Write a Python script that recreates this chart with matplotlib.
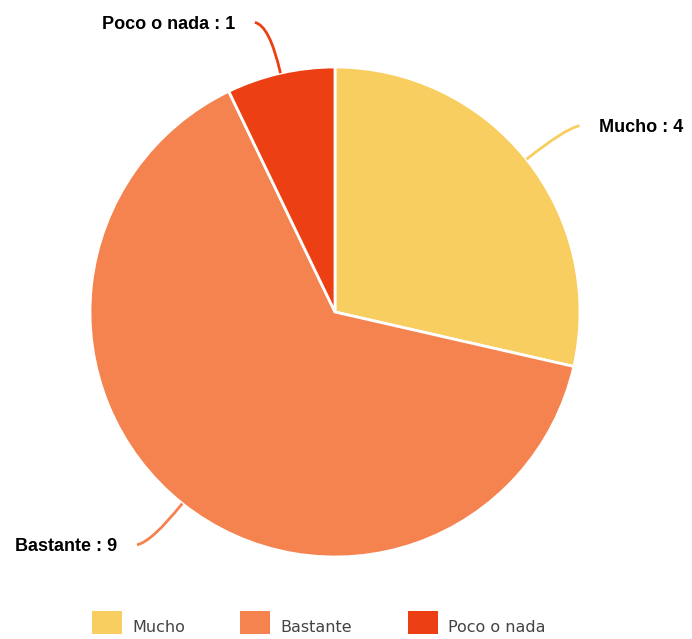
import numpy as np
import matplotlib
matplotlib.use("Agg")
import matplotlib.pyplot as plt
from matplotlib.path import Path
from matplotlib.patches import PathPatch

# date
categorii = ["Mucho", "Bastante", "Poco o nada"]
valori = [4, 9, 1]
culori = ["#F8CE60", "#F58350", "#EC4014"]

fig = plt.figure(figsize=(6.92, 6.39), dpi=100)
ax = fig.add_axes([90 / 692, 82 / 639, 490 / 692, 490 / 639])

wedges, _ = ax.pie(valori, colors=culori, startangle=90, counterclock=False,
                   radius=1, wedgeprops=dict(edgecolor="white", linewidth=2))
ax.set_xlim(-1, 1)
ax.set_ylim(-1, 1)
ax.set_aspect("auto")
ax.axis("off")

# etichete cu linii de legatura
for w, cat, val, col in zip(wedges, categorii, valori, culori):
    ang = np.deg2rad((w.theta1 + w.theta2) / 2)
    cx, cy = np.cos(ang), np.sin(ang)
    x0, y0 = cx, cy
    x1, y1 = 1.2 * cx, 1.2 * cy
    sign = 1 if cx > 0 else -1
    x2, y2 = x1 + sign * 0.06, y1 + 0.012 * np.sign(cy)
    p = Path([(x0, y0), (x1, y1), (x2, y2)], [Path.MOVETO, Path.CURVE3, Path.CURVE3])
    ax.add_patch(PathPatch(p, fill=False, edgecolor=col, lw=2, clip_on=False))
    ax.text(x2 + sign * 0.08, y2 - 0.008, f"{cat} : {val}", ha="left" if sign > 0 else "right",
            va="center", fontsize=13, fontweight="bold", family="Liberation Sans",
            color="black", clip_on=False)

# legenda
xs = [92, 240, 408]
for x, cat, col in zip(xs, categorii, culori):
    fig.patches.append(plt.Rectangle((x / 692, 1 - 634 / 639), 30 / 692, 23 / 639,
                                     transform=fig.transFigure, facecolor=col,
                                     edgecolor="none"))
    fig.text((x + 40) / 692, 1 - 627 / 639, cat, fontsize=11.5, color="#444444",
             va="center", ha="left")

fig.savefig("out.png", dpi=100, facecolor="white")
